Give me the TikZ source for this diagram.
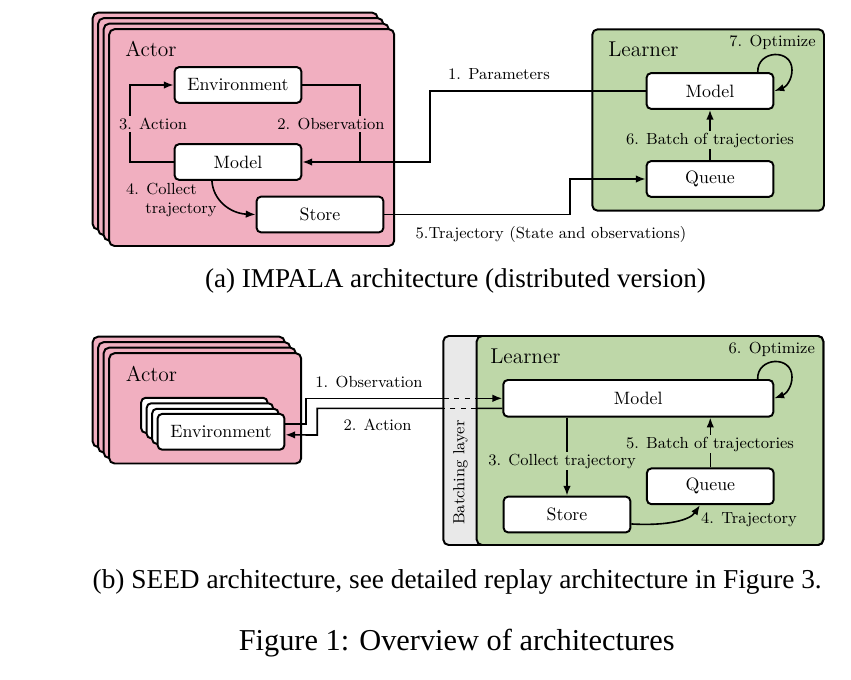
\documentclass[tikz,border=0pt]{standalone}
\usepackage{fontspec}
\usepackage{tikz}
\usetikzlibrary{arrows.meta,calc,positioning}
\newfontfamily\capfont{Liberation Serif}
\definecolor{actorpink}{RGB}{241,175,192}
\definecolor{learngreen}{RGB}{190,215,168}
\definecolor{batchgray}{RGB}{233,233,233}

\begin{document}
\begin{tikzpicture}[x=0.56pt,y=-0.56pt,
  box/.style={draw,line width=1.1pt,rounded corners=2.5pt,fill=white,minimum width=71pt,minimum height=20pt,inner sep=0pt},
  panel/.style={draw,line width=1.1pt,rounded corners=3pt},
  lbl/.style={font=\small,inner sep=1pt},
  ttl/.style={font=\large,inner sep=0pt},
  conn/.style={line width=0.9pt},
  arr/.style={line width=0.9pt,-{Latex[length=5.5pt,width=4.2pt]}},
  capt/.style={anchor=base,inner sep=0pt}]
  \useasboundingbox (0,0) rectangle (851,679);

  % (a) IMPALA
  \foreach \d in {0,5.5,11,16.5}
    \draw[panel,fill=actorpink] (92.7+\d,12.7+\d) rectangle (377.7+\d,229.5+\d);
  \node[ttl] (atitle) at (151,49) {Actor};
  \node[box] (aenv) at (238,85) {Environment};
  \node[box] (amodel) at (238,162) {Model};
  \node[box] (astore) at (320,214.5) {Store};

  \draw[panel,fill=learngreen] (592.3,29.3) rectangle (824,210.7);
  \node[ttl] (ltitle) at (643.5,49.5) {Learner};
  \node[lbl] (lopt) at (772.5,42) {7. Optimize};
  \node[box] (lmodel) at (710,91) {Model};
  \node[box] (lqueue) at (710,179) {Queue};

  \draw[arr] (amodel.west) -| (130,124) |- (aenv.west);
  \node[lbl,fill=actorpink] (lact) at (153,124) {3. Action};
  \draw[conn] (aenv.east) -| (360,162);
  \node[lbl,fill=actorpink] (lobs) at (331,124) {2. Observation};
  \draw[arr] (lmodel.west) -| (430,162) -- (amodel.east);
  \node[lbl] (lpar) at (499,74) {1. Parameters};
  \draw[arr] ([xshift=-14.6pt]amodel.south) .. controls (213,200) and (230,213.5) .. (astore.west);
  \node[lbl,align=left,anchor=west] (lcol) at (124,200) {4. Collect\\\hspace{1.2em}trajectory};
  \draw[arr] (astore.east) -| (570,179) -- (lqueue.west);
  \node[lbl] (ltraj) at (551,234) {5.Trajectory (State and observations)};
  \draw[arr] (lqueue.north) -- (lmodel.south);
  \node[lbl,fill=learngreen] (lbatch) at (710,140) {6. Batch of trajectories};
  \draw[arr] ([xshift=-9.3pt]lmodel.north east) .. controls (757,50) and (792,48) .. (792,70) .. controls (792,80) and (786,87) .. (lmodel.east);

  \node[capt,font=\capfont\fontsize{15.2}{18}\selectfont] (capa) at (455.5,287) {(a) IMPALA architecture (distributed version)};

  % (b) SEED
  \foreach \d in {0,5.5,11,16.5}
    \draw[panel,fill=actorpink] (92.7+\d,336.7+\d) rectangle (284.7+\d,447+\d);
  \node[ttl] (btitle) at (151.5,374) {Actor};
  \foreach \d in {0,5.5,11}
    \draw[panel,fill=white,rounded corners=2.5pt] (141.2+\d,397.8+\d) rectangle (267.5+\d,432.8+\d);
  \node[box] (benv) at (221,431.8) {Environment};

  \draw[panel,fill=batchgray] (443.3,336) rectangle (823.3,545);
  \draw[panel,fill=learngreen] (476.7,336) rectangle (823.3,545);
  \node[lbl,rotate=90] (bbl) at (460.5,472.5) {Batching layer};
  \node[ttl] (blearn) at (525.5,356) {Learner};
  \node[lbl] (bopt) at (771.7,349) {6. Optimize};
  \node[box,minimum width=151.2pt,minimum height=20.5pt] (bmodel) at (638.3,398.3) {Model};
  \node[box] (bstore) at (567,514.5) {Store};
  \node[box] (bqueue) at (710.3,486.3) {Queue};

  \coordinate (obsA) at (443.3,398.3);
  \coordinate (obsB) at (476.7,398.3);
  \draw[conn] ([yshift=4.3pt]benv.east) -| (306,398.3) -- (obsA);
  \draw[conn,dashed] (obsA) -- (obsB);
  \draw[arr] (obsB) -- (bmodel.west);
  \coordinate (actA) at (443.3,408.3);
  \coordinate (actB) at (476.7,408.3);
  \draw[conn] ([yshift=-5.6pt]bmodel.west) -- (actB);
  \draw[conn,dashed] (actB) -- (actA);
  \draw[arr] (actA) -| (317.3,435) -- ([yshift=-1.7pt]benv.east);
  \node[lbl] (bobs) at (369,382) {1. Observation};
  \node[lbl] (bact) at (377.5,425) {2. Action};

  \draw[arr] (bstore.north |- bmodel.south) -- (bstore.north);
  \node[lbl,fill=learngreen] (bcol) at (562,461) {3. Collect trajectory};
  \draw[arr] (bqueue.north) -- (bqueue.north |- bmodel.south);
  \node[lbl,fill=learngreen] (bbatch) at (710,444) {5. Batch of trajectories};
  \draw[arr] ([yshift=-5.3pt]bstore.east) .. controls (668,526) and (690,520) .. ([xshift=-5.8pt]bqueue.south);
  \node[lbl] (btraj) at (749,520) {4. Trajectory};
  \draw[arr] ([xshift=-9.3pt]bmodel.north east) .. controls (757,357) and (792,355) .. (792,377) .. controls (792,387) and (786,394) .. (bmodel.east);

  \node[capt,font=\capfont\fontsize{15.3}{18}\selectfont] (capb) at (457.2,588) {(b) SEED architecture, see detailed replay architecture in Figure 3.};
  \node[capt,font=\capfont\fontsize{17}{20}\selectfont] (capfig) at (456.7,650) {Figure 1: Overview of architectures};
\end{tikzpicture}
\end{document}
